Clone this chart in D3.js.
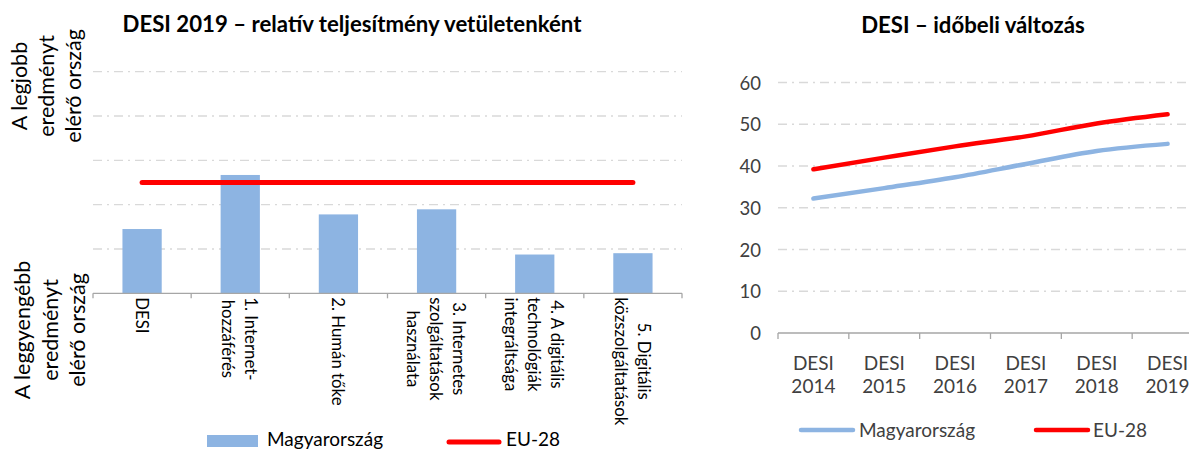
<!DOCTYPE html>
<html>
<head>
<meta charset="utf-8">
<script src="https://cdn.jsdelivr.net/npm/d3@7"></script>
<style>
  html, body { margin: 0; padding: 0; background: #fff; }
  svg { display: block; font-family: Lato, "Liberation Sans", sans-serif; }
</style>
</head>
<body>
<svg id="chart" width="1189" height="451"></svg>
<script>
// ---------- data ----------
const barCategories = [
  ["DESI"],
  ["1. Internet-", "hozzáférés"],
  ["2. Humán tőke"],
  ["3. Internetes", "szolgáltatások", "használata"],
  ["4. A digitális", "technológiák", "integráltsága"],
  ["5. Digitális", "közszolgáltatások"]
];
const barValues = [29.0, 53.4, 35.6, 37.9, 17.5, 18.1];      // Magyarország (relative)
const euRelative = [50, 50, 50, 50, 50, 50];                   // EU-28 (relative)
const barTicks = [20, 40, 60, 80, 100];

const years = ["DESI 2014", "DESI 2015", "DESI 2016", "DESI 2017", "DESI 2018", "DESI 2019"];
const huValues = [32.2, 34.7, 37.3, 40.5, 43.6, 45.3];
const euValues = [39.2, 42.0, 44.7, 47.1, 50.2, 52.4];
const lineTicks = [0, 10, 20, 30, 40, 50, 60];

const leftTitle = "DESI 2019 – relatív teljesítmény vetületenként";
const rightTitle = "DESI – időbeli változás";
const topLabel = ["A legjobb", "eredményt", "elérő ország"];
const bottomLabel = ["A leggyengébb", "eredményt", "elérő ország"];
const seriesNames = ["Magyarország", "EU-28"];

// ---------- style ----------
const BLUE = "#8db4e2", RED = "#ff0000", GRID = "#d9d9d9", AXIS = "#a6a6a6", TEXT = "#404040";
const dashGrid = "9,5,2,5";

const svg = d3.select("#chart");

// ================= LEFT CHART =================
const catIds = barCategories.map((d, i) => i);
const xL = d3.scaleBand().domain(catIds).range([93, 682]).paddingInner(0.6).paddingOuter(0.3);
const yL = d3.scaleLinear().domain([0, 100]).range([293.3, 71.7]);

const gL = svg.append("g");

// gridlines
gL.selectAll("line.grid").data(barTicks).join("line")
  .attr("x1", 93).attr("x2", 682)
  .attr("y1", d => yL(d)).attr("y2", d => yL(d))
  .attr("stroke", GRID).attr("stroke-width", 1.3).attr("stroke-dasharray", dashGrid);

// bars
gL.selectAll("rect.bar").data(barValues).join("rect")
  .attr("x", (d, i) => xL(i)).attr("width", xL.bandwidth())
  .attr("y", d => yL(d)).attr("height", d => yL(0) - yL(d))
  .attr("fill", BLUE);

// axis baseline + ticks
const stepL = xL.step();
const boundsL = d3.range(barCategories.length + 1).map(i => 93 + i * stepL);
gL.append("line").attr("x1", 93).attr("x2", 682).attr("y1", yL(0)).attr("y2", yL(0))
  .attr("stroke", AXIS).attr("stroke-width", 1.3);
gL.selectAll("line.tick").data(boundsL).join("line")
  .attr("x1", d => d).attr("x2", d => d).attr("y1", yL(0)).attr("y2", yL(0) + 5)
  .attr("stroke", AXIS).attr("stroke-width", 1.3);

// EU line
const euLine = d3.line().x((d, i) => xL(i) + xL.bandwidth() / 2).y(d => yL(d));
gL.append("path").datum(euRelative).attr("d", euLine)
  .attr("fill", "none").attr("stroke", RED).attr("stroke-width", 5).attr("stroke-linecap", "round");

// category labels (rotated 90°)
const labFS = 16.8, labLH = 23;
barCategories.forEach((lines, i) => {
  const cx = xL(i) + xL.bandwidth() / 2;
  const g = gL.append("g");
  const texts = lines.map((t, k) => g.append("text").text(t)
    .attr("font-size", labFS).attr("fill", "#000").attr("text-anchor", "middle")
    .attr("dominant-baseline", "central"));
  const maxW = d3.max(texts, t => t.node().getComputedTextLength());
  const cy = yL(0) + 4 + maxW / 2;
  const n = lines.length;
  texts.forEach((t, k) => {
    const x = cx + ((n - 1) / 2 - k) * labLH;
    t.attr("transform", `translate(${x},${cy}) rotate(90)`);
  });
});

// side labels
function sideLabel(lines, cy, xs, fs) {
  lines.forEach((t, k) => {
    svg.append("text").text(t).attr("font-size", fs).attr("fill", "#000")
      .attr("text-anchor", "middle").attr("dominant-baseline", "central")
      .attr("transform", `translate(${xs[k]},${cy}) rotate(-90)`);
  });
}
sideLabel(topLabel, 86, [19, 46, 73], 21.5);
sideLabel(bottomLabel, 330, [22, 50, 77], 21.5);

// title
svg.append("text").text(leftTitle).attr("x", 352).attr("y", 32)
  .attr("text-anchor", "middle").attr("font-size", 22.2).attr("font-weight", "bold").attr("fill", "#000");

// legend left
svg.append("rect").attr("x", 207).attr("y", 435).attr("width", 51).attr("height", 12).attr("fill", BLUE);
svg.append("text").text(seriesNames[0]).attr("x", 267).attr("y", 446).attr("font-size", 19).attr("fill", "#000");
svg.append("line").attr("x1", 449).attr("x2", 499).attr("y1", 442).attr("y2", 442)
  .attr("stroke", RED).attr("stroke-width", 5).attr("stroke-linecap", "round");
svg.append("text").text(seriesNames[1]).attr("x", 506).attr("y", 446).attr("font-size", 19).attr("fill", "#000");

// ================= RIGHT CHART =================
const xR = d3.scaleBand().domain(years).range([778, 1203]).padding(0);
const yR = d3.scaleLinear().domain([0, 60]).range([333, 82.5]);
const gR = svg.append("g");

gR.selectAll("line.grid").data(lineTicks.filter(d => d > 0)).join("line")
  .attr("x1", 778).attr("x2", 1203)
  .attr("y1", d => yR(d)).attr("y2", d => yR(d))
  .attr("stroke", GRID).attr("stroke-width", 1.3).attr("stroke-dasharray", dashGrid);

gR.selectAll("text.ytick").data(lineTicks).join("text")
  .text(d => d).attr("x", 761).attr("y", d => yR(d))
  .attr("text-anchor", "end").attr("dominant-baseline", "central")
  .attr("font-size", 18.5).attr("fill", TEXT);

const boundsR = d3.range(years.length + 1).map(i => 778 + i * xR.step());
gR.append("line").attr("x1", 778).attr("x2", 1203).attr("y1", yR(0)).attr("y2", yR(0))
  .attr("stroke", AXIS).attr("stroke-width", 1.3);
gR.selectAll("line.tick").data(boundsR).join("line")
  .attr("x1", d => d).attr("x2", d => d).attr("y1", yR(0)).attr("y2", yR(0) + 6)
  .attr("stroke", AXIS).attr("stroke-width", 1.3);

years.forEach(y => {
  const parts = y.split(" ");
  const cx = xR(y) + xR.bandwidth() / 2;
  parts.forEach((p, k) => {
    gR.append("text").text(p).attr("x", cx).attr("y", 362 + k * 23)
      .attr("text-anchor", "middle").attr("dominant-baseline", "central")
      .attr("font-size", 19).attr("fill", TEXT);
  });
});

const lineR = d3.line().x((d, i) => xR(years[i]) + xR.bandwidth() / 2).y(d => yR(d))
  .curve(d3.curveMonotoneX);
gR.append("path").datum(huValues).attr("d", lineR)
  .attr("fill", "none").attr("stroke", BLUE).attr("stroke-width", 4.5).attr("stroke-linecap", "round");
gR.append("path").datum(euValues).attr("d", lineR)
  .attr("fill", "none").attr("stroke", RED).attr("stroke-width", 4.5).attr("stroke-linecap", "round");

svg.append("text").text(rightTitle).attr("x", 973).attr("y", 33)
  .attr("text-anchor", "middle").attr("font-size", 22.2).attr("font-weight", "bold").attr("fill", "#000");

// legend right
svg.append("line").attr("x1", 801).attr("x2", 853).attr("y1", 430).attr("y2", 430)
  .attr("stroke", BLUE).attr("stroke-width", 4.5).attr("stroke-linecap", "round");
svg.append("text").text(seriesNames[0]).attr("x", 859).attr("y", 437).attr("font-size", 19).attr("fill", TEXT);
svg.append("line").attr("x1", 1036).attr("x2", 1088).attr("y1", 430).attr("y2", 430)
  .attr("stroke", RED).attr("stroke-width", 4.5).attr("stroke-linecap", "round");
svg.append("text").text(seriesNames[1]).attr("x", 1093).attr("y", 437).attr("font-size", 19).attr("fill", TEXT);
</script>
</body>
</html>
